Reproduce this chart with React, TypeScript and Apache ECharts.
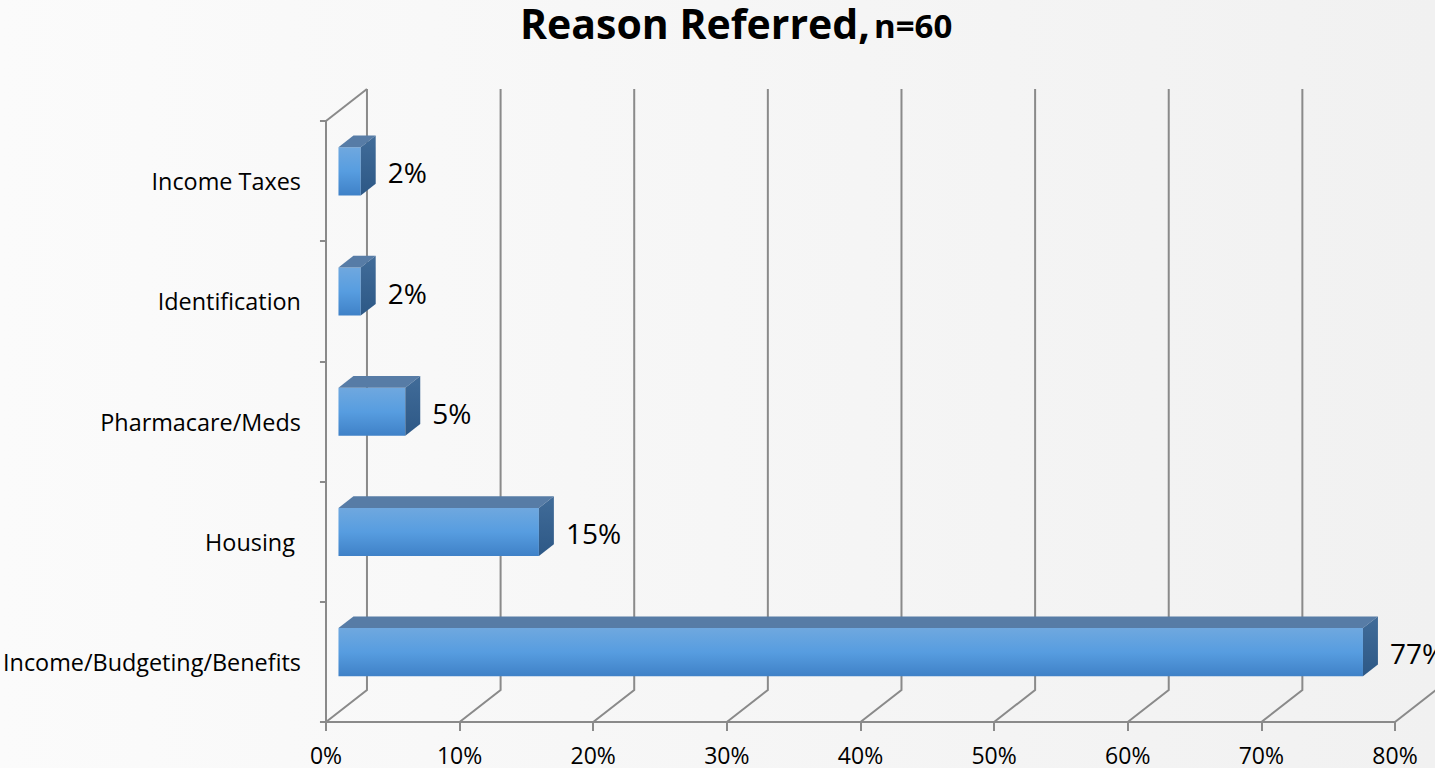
import React, { useEffect, useRef } from "react";
import * as echarts from "echarts";

const TITLE_MAIN = "Reason Referred,";
const TITLE_SUB = "n=60";
const CATEGORIES = ["Income Taxes", "Identification", "Pharmacare/Meds", "Housing ", "Income/Budgeting/Benefits"];
const COUNTS = [1, 1, 3, 9, 46];
const N_TOTAL = 60;
const PERCENTS = COUNTS.map((c) => (c / N_TOTAL) * 100);
const X_TICKS = [0, 10, 20, 30, 40, 50, 60, 70, 80];

const FONT = "'Open Sans', 'Noto Sans', sans-serif";
const GRID_COLOR = "#8a8a8a";
const DEPTH_X = 41;
const DEPTH_Y = -32;
const BAR_FRONT = 0.305;
const BAR_BACK = 0.67;
const BAR_THICK = 0.4;

export default function App() {
  const ref = useRef<HTMLDivElement>(null);
  useEffect(() => {
    if (!ref.current) return;
    const chart = echarts.init(ref.current, undefined, { renderer: "svg" });
    const option: any = {
      animation: false,
      graphic: [
        {
          type: "text",
          left: 520,
          top: 2,
          style: {
            text: TITLE_MAIN,
            fontFamily: FONT,
            fontWeight: "bold",
            fontSize: 41,
            fill: "#000",
          },
        },
        {
          type: "text",
          left: 874,
          top: 9,
          style: {
            text: TITLE_SUB,
            fontFamily: FONT,
            fontWeight: "bold",
            fontSize: 33,
            fill: "#000",
          },
        },
      ],
      grid: { left: 325, right: 40, top: 121, bottom: 46, containLabel: false },
      xAxis: {
        type: "value",
        min: 0,
        max: 80,
        interval: 10,
        axisLine: { show: true, lineStyle: { color: GRID_COLOR, width: 2 } },
        axisTick: { show: true, length: 9, lineStyle: { color: GRID_COLOR, width: 2 } },
        splitLine: { show: false },
        axisLabel: {
          formatter: "{value}%",
          fontFamily: FONT,
          fontSize: 23,
          lineHeight: 18,
          color: "#000",
          margin: 24,
        },
      },
      yAxis: {
        type: "category",
        data: CATEGORIES,
        inverse: true,
        axisLine: { show: true, lineStyle: { color: GRID_COLOR, width: 2 } },
        axisTick: { show: true, length: 6, lineStyle: { color: GRID_COLOR, width: 2 } },
        axisLabel: { fontFamily: FONT, fontSize: 23.4, color: "#000", margin: 25 },
      },
      series: [
        {
          type: "custom",
          clip: false,
          z: 1,
          silent: true,
          encode: { x: 0, y: 1 },
          data: X_TICKS.map((v) => [v, 0]),
          renderItem: (params: any, api: any) => {
            const v = api.value(0);
            const x = api.coord([v, 0])[0];
            const cs = params.coordSys;
            const top = cs.y;
            const bottom = cs.y + cs.height;
            const style = { stroke: GRID_COLOR, lineWidth: 2, fill: "none" };
            const children: any[] = [
              {
                type: "polyline",
                shape: {
                  points: [
                    [x, bottom],
                    [x + DEPTH_X, bottom + DEPTH_Y],
                    [x + DEPTH_X, top + DEPTH_Y],
                  ],
                },
                style,
              },
            ];
            if (v === 0) {
              children.push({
                type: "line",
                shape: { x1: x, y1: top, x2: x + DEPTH_X, y2: top + DEPTH_Y },
                style,
              });
            }
            return { type: "group", children };
          },
        },
        {
          type: "custom",
          clip: false,
          z: 2,
          encode: { x: 0, y: 1 },
          data: PERCENTS.map((p, i) => [p, i]),
          renderItem: (params: any, api: any) => {
            const val = api.value(0);
            const idx = api.value(1);
            const p0 = api.coord([0, idx]);
            const x1 = api.coord([val, idx])[0];
            const bandH = api.size([0, 1])[1];
            const yc = p0[1];
            const fx0 = p0[0] + BAR_FRONT * DEPTH_X;
            const fx1 = x1 + BAR_FRONT * DEPTH_X;
            const ft = yc - (BAR_THICK / 2) * bandH + BAR_FRONT * DEPTH_Y;
            const fb = yc + (BAR_THICK / 2) * bandH + BAR_FRONT * DEPTH_Y;
            const bdx = (BAR_BACK - BAR_FRONT) * DEPTH_X;
            const bdy = (BAR_BACK - BAR_FRONT) * DEPTH_Y;
            return {
              type: "group",
              children: [
                {
                  type: "rect",
                  shape: { x: fx0, y: ft, width: fx1 - fx0, height: fb - ft },
                  style: {
                    fill: new echarts.graphic.LinearGradient(0, 0, 0, 1, [
                      { offset: 0, color: "#6fa8df" },
                      { offset: 0.5, color: "#579de0" },
                      { offset: 1, color: "#3f81c7" },
                    ]),
                  },
                },
                {
                  type: "polygon",
                  shape: {
                    points: [
                      [fx0, ft],
                      [fx1, ft],
                      [fx1 + bdx, ft + bdy],
                      [fx0 + bdx, ft + bdy],
                    ],
                  },
                  style: { fill: "#577ca6" },
                },
                {
                  type: "polygon",
                  shape: {
                    points: [
                      [fx1, ft],
                      [fx1 + bdx, ft + bdy],
                      [fx1 + bdx, fb + bdy],
                      [fx1, fb],
                    ],
                  },
                  style: {
                    fill: new echarts.graphic.LinearGradient(0, 0, 0, 1, [
                      { offset: 0, color: "#416c99" },
                      { offset: 1, color: "#2d5886" },
                    ]),
                  },
                },
                {
                  type: "text",
                  style: {
                    text: Math.round(val) + "%",
                    x: fx1 + bdx + 12,
                    y: (ft + fb) / 2 + 1,
                    align: "left",
                    verticalAlign: "middle",
                    fontFamily: FONT,
                    fontSize: 28,
                    fill: "#000",
                  },
                },
              ],
            };
          },
        },
      ],
    };
    chart.setOption(option);
    return () => chart.dispose();
  }, []);
  return (
    <div
      ref={ref}
      style={{
        position: "fixed",
        left: 0,
        top: 0,
        width: 1435,
        height: 768,
        background: "linear-gradient(to right, #fbfbfb 0%, #f6f6f6 50%, #f1f1f1 100%)",
      }}
    />
  );
}
